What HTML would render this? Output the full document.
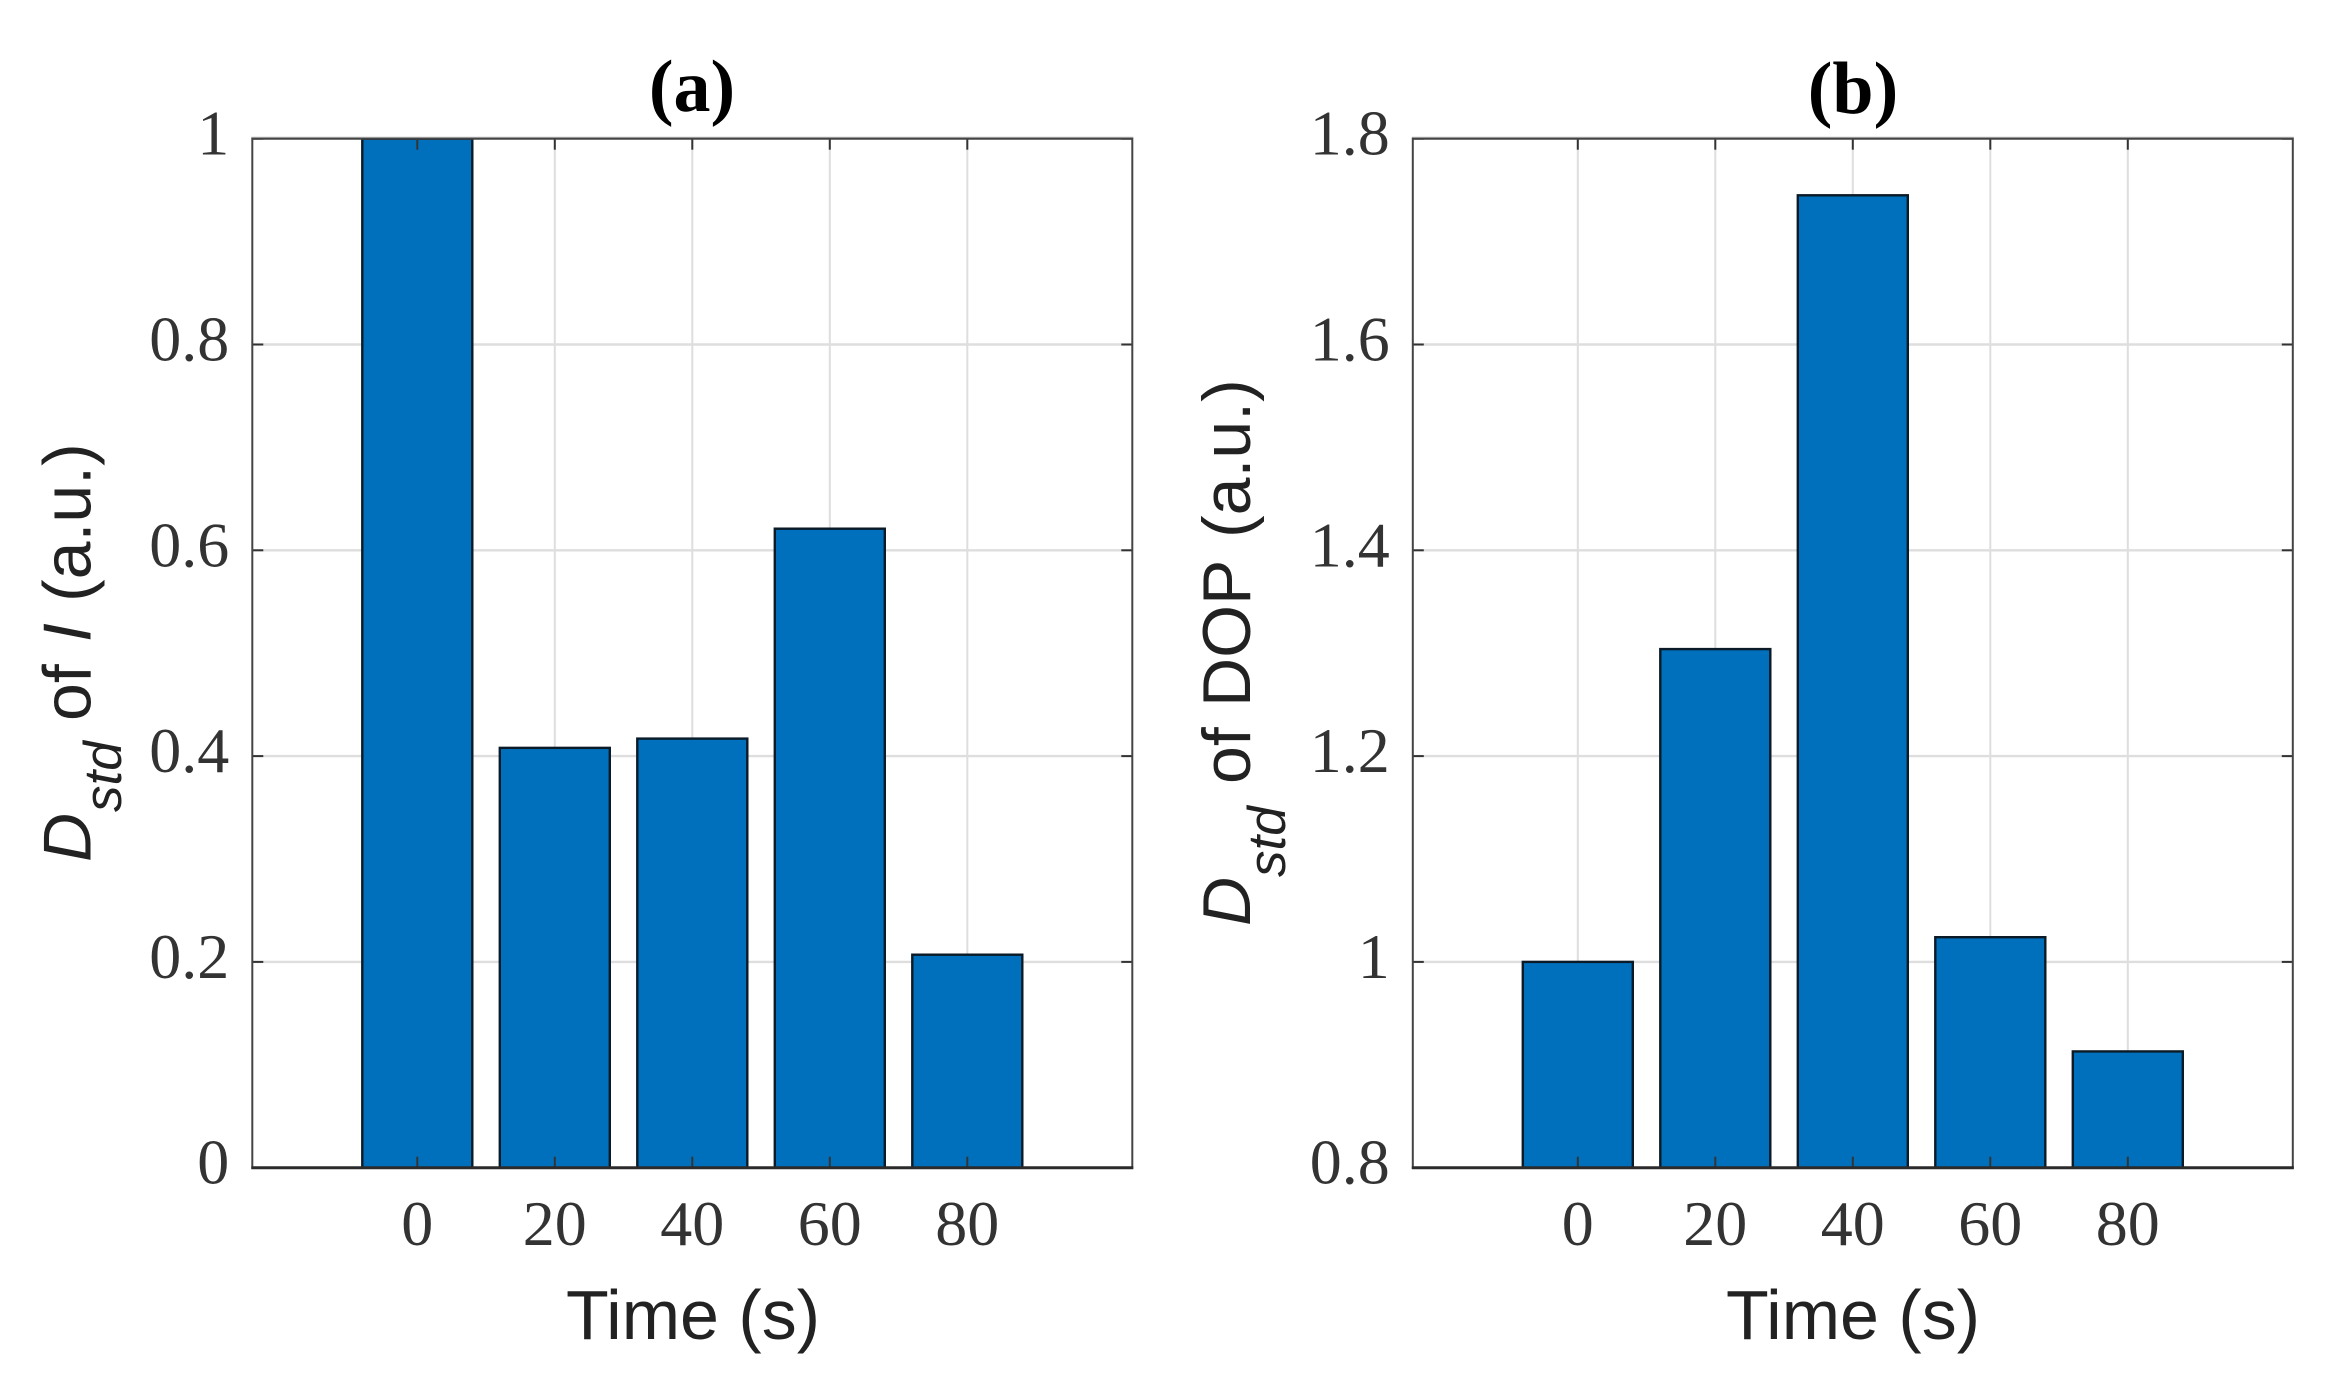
<!DOCTYPE html>
<html lang="en">
<head>
<meta charset="utf-8">
<title>Dstd of I and DOP over time</title>
<style>
  html, body { margin: 0; padding: 0; background: #fff; }
  svg { display: block; }
  .tick-label { font-family: "Liberation Serif", serif; font-size: 64px; fill: #333; }
  .panel-title { font-family: "Liberation Serif", serif; font-size: 74px; font-weight: bold; fill: #000; text-anchor: middle; }
  .axis-label { font-family: "Liberation Sans", sans-serif; font-size: 68px; fill: #222; }
  .x-title { font-size: 70px; }
  .axis-sub { font-family: "Liberation Sans", sans-serif; font-size: 53px; font-style: italic; fill: #222; }
  .ital { font-style: italic; }
</style>
</head>
<body>
<svg id="figure" xmlns="http://www.w3.org/2000/svg" width="2342" height="1390" viewBox="0 0 2342 1390">
  <rect x="0" y="0" width="2342" height="1390" fill="#fff"/>
  <g id="panel-a"></g>
  <g id="panel-b"></g>

  <text class="panel-title" x="692" y="111">(a)</text>
  <text class="panel-title" x="1853" y="113">(b)</text>

  <text class="axis-label x-title" x="693" y="1339" text-anchor="middle">Time (s)</text>
  <text class="axis-label x-title" x="1853" y="1339" text-anchor="middle">Time (s)</text>

  <g>
    <text class="axis-label ital" transform="translate(90.7 862) rotate(-90)">D</text>
    <text class="axis-sub" transform="translate(121 812) rotate(-90)">std</text>
    <text class="axis-label" transform="translate(90.7 721) rotate(-90)">of</text>
    <text class="axis-label ital" transform="translate(90.7 642) rotate(-90)">I</text>
    <text class="axis-label" transform="translate(90.7 602) rotate(-90)">(a.u.)</text>
  </g>
  <g>
    <text class="axis-label ital" transform="translate(1250 926) rotate(-90)">D</text>
    <text class="axis-sub" transform="translate(1285 877) rotate(-90)">std</text>
    <text class="axis-label" transform="translate(1250 784) rotate(-90)">of</text>
    <text class="axis-label" transform="translate(1250 707) rotate(-90)">DOP</text>
    <text class="axis-label" transform="translate(1250 538) rotate(-90)">(a.u.)</text>
  </g>
</svg>
<script>
// Chart data
const timeCategories = [0, 20, 40, 60, 80];
const xTickLabels = ['0', '20', '40', '60', '80'];
const intensityValues = [1, 0.408, 0.417, 0.621, 0.207];
const dopValues = [1, 1.304, 1.745, 1.024, 0.913];
const yTicksA = [0, 0.2, 0.4, 0.6, 0.8, 1];
const yTickLabelsA = ['0', '0.2', '0.4', '0.6', '0.8', '1'];
const yTicksB = [0.8, 1, 1.2, 1.4, 1.6, 1.8];
const yTickLabelsB = ['0.8', '1', '1.2', '1.4', '1.6', '1.8'];

const SVG_NS = 'http://www.w3.org/2000/svg';
const X_MIN = -24, X_MAX = 104, BAR_WIDTH = 16;
const PLOT_TOP = 138.7, PLOT_BOTTOM = 1167.7;

function makeEl(parent, tag, attrs) {
  const el = document.createElementNS(SVG_NS, tag);
  for (const k in attrs) el.setAttribute(k, attrs[k]);
  parent.appendChild(el);
  return el;
}

function drawPanel(groupId, prefix, left, right, values, yTicks, yLabels) {
  const g = document.getElementById(groupId);
  const yMin = yTicks[0], yMax = yTicks[yTicks.length - 1];
  const xScale = v => left + (v - X_MIN) / (X_MAX - X_MIN) * (right - left);
  const yScale = v => PLOT_BOTTOM - (v - yMin) / (yMax - yMin) * (PLOT_BOTTOM - PLOT_TOP);

  // Grid
  yTicks.forEach(t => {
    const line = makeEl(g, 'line', { x1: left, x2: right, y1: yScale(t), y2: yScale(t), stroke: '#dedede', 'stroke-width': 2.4 });
    
    
  });
  timeCategories.forEach(t => {
    const line = makeEl(g, 'line', { x1: xScale(t), x2: xScale(t), y1: PLOT_TOP, y2: PLOT_BOTTOM, stroke: '#dedede', 'stroke-width': 2 });
    
    
  });

  // Bars
  timeCategories.forEach((t, i) => {
    const x0 = xScale(t - BAR_WIDTH / 2), x1 = xScale(t + BAR_WIDTH / 2), top = yScale(values[i]);
    const bar = makeEl(g, 'rect', { x: x0, y: top, width: x1 - x0, height: PLOT_BOTTOM - top, fill: '#0070BD', stroke: '#0a1a26', 'stroke-width': 2.4 });
    
    
  });

  // Ticks
  const TICK = 11;
  timeCategories.forEach(t => {
    const x = xScale(t);
    const bottomTick = makeEl(g, 'line', { x1: x, x2: x, y1: PLOT_BOTTOM, y2: PLOT_BOTTOM - TICK, stroke: '#333', 'stroke-width': 2 });
    
    
    const topTick = makeEl(g, 'line', { x1: x, x2: x, y1: PLOT_TOP, y2: PLOT_TOP + TICK, stroke: '#333', 'stroke-width': 2 });
    
    
  });
  yTicks.forEach(t => {
    const y = yScale(t);
    const leftTick = makeEl(g, 'line', { x1: left, x2: left + TICK, y1: y, y2: y, stroke: '#333', 'stroke-width': 2 });
    
    
    const rightTick = makeEl(g, 'line', { x1: right, x2: right - TICK, y1: y, y2: y, stroke: '#333', 'stroke-width': 2 });
    
    
  });

  // Axes box
  const topBand = makeEl(g, 'line', { x1: left - 1, x2: right + 1, y1: PLOT_TOP - 1, y2: PLOT_TOP - 1, stroke: '#bdbdbd', 'stroke-width': 2 });
  
  
  const box = makeEl(g, 'rect', { x: left, y: PLOT_TOP, width: right - left, height: PLOT_BOTTOM - PLOT_TOP, fill: 'none', stroke: '#444', 'stroke-width': 2 });
  
  
  const baseLine = makeEl(g, 'line', { x1: left - 1, x2: right + 1, y1: PLOT_BOTTOM, y2: PLOT_BOTTOM, stroke: '#2b2b2b', 'stroke-width': 3 });
  
  

  // Tick labels
  timeCategories.forEach((t, i) => {
    const label = makeEl(g, 'text', { class: 'tick-label', x: xScale(t), y: 1245, 'text-anchor': 'middle' });
    label.textContent = xTickLabels[i];
    
    
  });
  yTicks.forEach((t, i) => {
    const label = makeEl(g, 'text', { class: 'tick-label', x: left - 23, y: yScale(t) + 16, 'text-anchor': 'end' });
    label.textContent = yLabels[i];
    
    
  });
}

drawPanel('panel-a', 'panel-a', 252.3, 1132.3, intensityValues, yTicksA, yTickLabelsA);
drawPanel('panel-b', 'panel-b', 1412.8, 2292.8, dopValues, yTicksB, yTickLabelsB);
</script>
</body>
</html>
